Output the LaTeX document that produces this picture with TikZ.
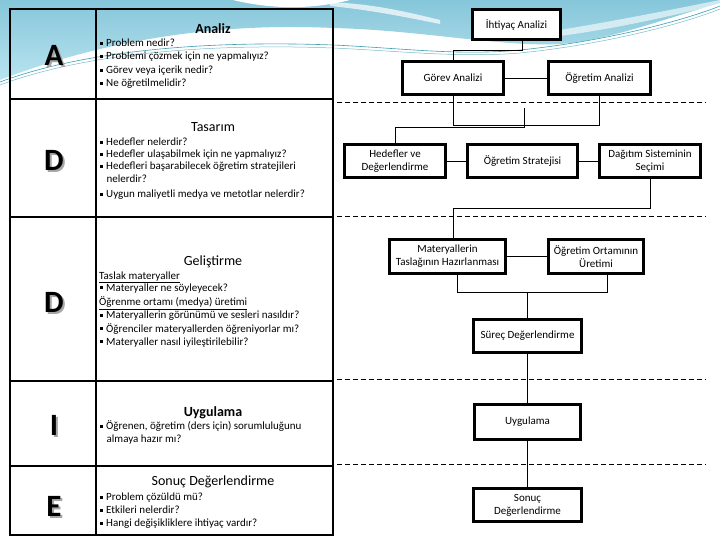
\documentclass[tikz,border=0pt]{standalone}
\usepackage{fontspec}
\setmainfont{Carlito}
\usetikzlibrary{calc}
\definecolor{wavea}{HTML}{86C6DA}
\definecolor{waveb}{HTML}{B8E4EF}
\definecolor{teal1}{HTML}{3C9FB2}
\newcommand{\bulsq}{\makebox[6pt][l]{\rule[0.35ex]{2.8pt}{2.8pt}}}
\newcommand{\indt}{\hspace*{6.5pt}}
\newcommand{\shletter}[1]{\rlap{\hspace*{2pt}\raisebox{-2pt}{\textcolor{black!35}{#1}}}#1}
\begin{document}
\begin{tikzpicture}[x=1pt,y=-1pt,
  box/.style={draw, line width=3.4pt, fill=white, inner sep=0pt, outer sep=0pt, align=center, font=\fontsize{11}{13}\selectfont},
  conn/.style={line width=0.8pt},
  sepline/.style={line width=0.8pt, dash pattern=on 5pt off 3pt},
  tab/.style={line width=1.6pt},
  big/.style={font=\fontsize{31}{33}\selectfont\bfseries, inner sep=0pt},
  head/.style={font=\fontsize{14}{16}\selectfont, anchor=base, inner sep=0pt},
  txt/.style={font=\fontsize{11}{13}\selectfont, anchor=base west, inner sep=0pt}]
\useasboundingbox (0,0) rectangle (720,540);
\fill[white] (0,0) rectangle (720,540);
% background wave
\shade[top color=wavea, bottom color=waveb]
  (0,0) -- (720,0) -- (720,3) .. controls (660,20) and (610,40) .. (560,44)
  .. controls (500,47) and (420,30) .. (333,28)
  .. controls (250,24) and (130,30) .. (0,80) -- cycle;
\fill[white] (233,0) .. controls (270,9) and (310,10) .. (350,0) -- cycle;
\fill[white, opacity=0.7] (330,6) .. controls (370,10) and (400,16) .. (440,24) -- (440,20) .. controls (400,10) and (370,4) .. (330,2) -- cycle;
\fill[white, opacity=0.6] (560,30) .. controls (620,20) and (680,8) .. (720,0) -- (720,4) .. controls (680,14) and (620,28) .. (560,36) -- cycle;
\draw[teal1, line width=0.6pt] (0,82) .. controls (80,52) and (200,40) .. (333,45) .. controls (400,48) and (460,56) .. (520,50) .. controls (600,42) and (680,22) .. (720,6);
\draw[teal1!70, line width=0.5pt] (0,85) .. controls (80,55) and (200,43) .. (333,48) .. controls (400,51) and (460,58) .. (520,53) .. controls (600,45) and (680,25) .. (720,9);
% table
\draw[tab] (10,9) rectangle (333,535);
\draw[tab] (96,9) -- (96,535);
\foreach \yy in {99,217,381,466} \draw[tab] (10,\yy) -- (333,\yy);
% big letters (with shadow)
\node[big] (lA) at (54,56) {\shletter{A}};
\node[big] (lD1) at (54,161) {\shletter{D}};
\node[big] (lD2) at (54,303) {\shletter{D}};
\node[big] (lI) at (54,426) {\shletter{I}};
\node[big] (lE) at (54,507) {\shletter{E}};
% Analiz
\node[head, font=\fontsize{14}{16}\selectfont\bfseries] (h1) at (213,33.5) {Analiz};
\node[txt] (a1) at (100,46.5) {\bulsq Problem nedir?};
\node[txt] (a2) at (100,60) {\bulsq Problemi çözmek için ne yapmalıyız?};
\node[txt] (a3) at (100,73.5) {\bulsq Görev veya içerik nedir?};
\node[txt] (a4) at (100,86.5) {\bulsq Ne öğretilmelidir?};
% Tasarim
\node[head] (h2) at (213,131.5) {Tasarım};
\node[txt] (t1) at (100,146) {\bulsq Hedefler nelerdir?};
\node[txt] (t2) at (100,158) {\bulsq Hedefler ulaşabilmek için ne yapmalıyız?};
\node[txt] (t3) at (100,170) {\bulsq Hedefleri başarabilecek öğretim stratejileri};
\node[txt] (t4) at (100,183) {\indt nelerdir?};
\node[txt] (t5) at (100,197.5) {\bulsq Uygun maliyetli medya ve metotlar nelerdir?};
% Gelistirme
\node[head] (h3) at (213,265.5) {Geliştirme};
\node[txt] (g1) at (99,279.5) {\underline{Taslak materyaller}};
\node[txt] (g2) at (100,291) {\bulsq Materyaller ne söyleyecek?};
\node[txt] (g3) at (99,305.5) {\underline{Öğrenme ortamı (medya) üretimi}};
\node[txt] (g4) at (100,318.5) {\bulsq Materyallerin görünümü ve sesleri nasıldır?};
\node[txt] (g5) at (100,332) {\bulsq Öğrenciler materyallerden öğreniyorlar mı?};
\node[txt] (g6) at (100,345) {\bulsq Materyaller nasıl iyileştirilebilir?};
% Uygulama
\node[head, font=\fontsize{14}{16}\selectfont\bfseries] (h4) at (213,416.5) {Uygulama};
\node[txt] (u1) at (100,429.5) {\bulsq Öğrenen, öğretim (ders için) sorumluluğunu};
\node[txt] (u2) at (100,442.5) {\indt almaya hazır mı?};
% Sonuc
\node[head] (h5) at (213,485.5) {Sonuç Değerlendirme};
\node[txt] (s1) at (100,500.5) {\bulsq Problem çözüldü mü?};
\node[txt] (s2) at (100,513.5) {\bulsq Etkileri nelerdir?};
\node[txt] (s3) at (100,526.5) {\bulsq Hangi değişikliklere ihtiyaç vardır?};
% dashed separators
\foreach \yy in {102,216,379,464} \draw[sepline] (337,\yy) -- (706,\yy);
% right boxes
\node[box, minimum width=88pt, minimum height=30pt] (ihtiyac) at (516.5,24.5) {İhtiyaç Analizi};
\node[box, minimum width=101pt, minimum height=33pt] (gorev) at (453,78) {Görev Analizi};
\node[box, minimum width=102pt, minimum height=33pt] (ogrA) at (599.5,78) {Öğretim Analizi};
\node[box, minimum width=101pt, minimum height=33pt] (hedef) at (395,161) {Hedefler ve\\Değerlendirme};
\node[box, minimum width=110pt, minimum height=33pt] (strat) at (522.5,161) {Öğretim Stratejisi};
\node[box, minimum width=101pt, minimum height=33pt] (dagitim) at (650,161) {Dağıtım Sisteminin\\Seçimi};
\node[box, minimum width=116pt, minimum height=34pt] (mater) at (447.5,256.5) {Materyallerin\\Taslağının Hazırlanması};
\node[box, minimum width=95pt, minimum height=34pt] (ortam) at (596,256.5) {Öğretim Ortamının\\Üretimi};
\node[box, minimum width=108pt, minimum height=33pt] (surec) at (527.5,336) {Süreç Değerlendirme};
\node[box, minimum width=106pt, minimum height=35pt] (uyg) at (527.5,422) {Uygulama};
\node[box, minimum width=108pt, minimum height=33pt] (sonuc) at (527.5,505) {Sonuç\\Değerlendirme};
% connectors
\coordinate (c1) at (522,50);
\draw[conn] (ihtiyac.south -| c1) -- (c1) -| (gorev.north);
\draw[conn] (gorev.east) -- (ogrA.west);
\coordinate (b1) at (0,125);
\draw[conn] (gorev.south) -- (gorev.south |- b1) -- (ogrA.south |- b1) -- (ogrA.south);
\coordinate (m1) at (524,108);
\coordinate (m2) at (524,127);
\draw[conn] (m1) -- (m2) -| (hedef.north);
\draw[conn] (hedef.east) -- (strat.west);
\draw[conn] (strat.east) -- (dagitim.west);
\coordinate (c2) at (453,208);
\draw[conn] (dagitim.south) |- (c2) -- (c2 |- mater.north);
\draw[conn] (mater.east) -- (ortam.west);
\coordinate (b2l) at (457,292);
\coordinate (b2r) at (607,292);
\draw[conn] (mater.south -| b2l) -- (b2l) -- (b2r) -- (ortam.south -| b2r);
\draw[conn] (surec.north |- b2l) -- (surec.north);
\draw[conn] (surec.south) -- (uyg.north);
\draw[conn] (uyg.south) -- (sonuc.north);
\end{tikzpicture}
\end{document}
